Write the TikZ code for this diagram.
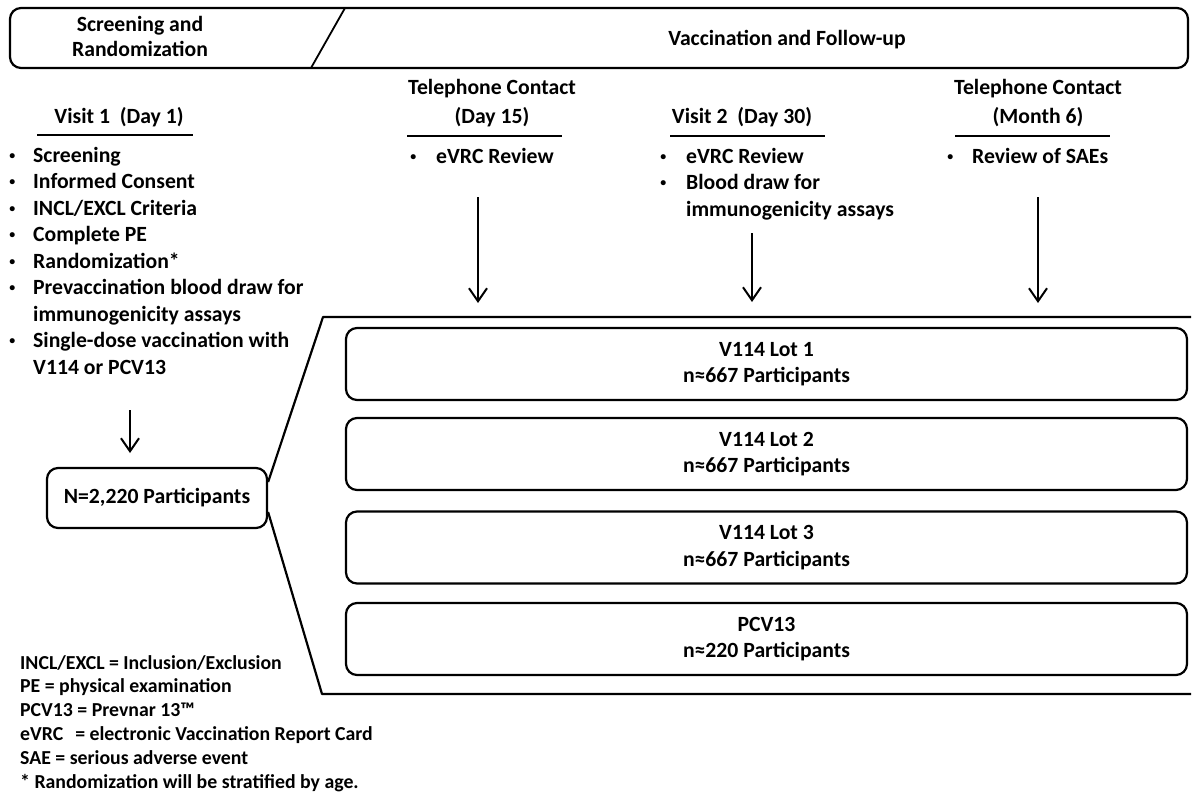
\documentclass[tikz,border=0pt]{standalone}
\usepackage{fontspec}
\setmainfont{Carlito}
\usetikzlibrary{arrows.meta,calc}
\tikzset{
  txt/.style={inner sep=0pt, font=\bfseries\fontsize{21.7}{26.5}\selectfont, anchor=base west},
  ctxt/.style={txt, anchor=base},
  leg/.style={inner sep=0pt, font=\bfseries\fontsize{19.8}{23.8}\selectfont, anchor=base west},
  frame/.style={draw, line width=2.2pt, rounded corners=11pt},
  grp/.style={frame, minimum width=841pt, minimum height=72pt, align=center, inner sep=0pt,
              font=\bfseries\fontsize{21.7}{26.5}\selectfont},
  uline/.style={line width=2.4pt},
  arr/.style={line width=2pt, -{Straight Barb[length=13pt,width=18pt]}},
  bracket/.style={line width=2.2pt},
}
\newcommand{\mybul}[2]{\makebox[#1][l]{\hspace{2.5pt}\raisebox{2.6pt}{\scalebox{0.55}{\textbullet}}}#2}
\begin{document}
\begin{tikzpicture}[x=1pt,y=-1pt]
\useasboundingbox (0,0) rectangle (1192,792);

% banner
\node[frame, minimum width=1178pt, minimum height=60pt, inner sep=0pt] (banner) at (599,38) {};
\coordinate (s1) at (345,8);
\coordinate (s2) at (311,68);
\draw[line width=1.8pt] (s1) -- (s2);
\node[ctxt] (bt1) at (140,32) {Screening and};
\node[ctxt] (bt2) at (140,57) {Randomization};
\node[ctxt] (bt3) at (787,46) {Vaccination and Follow-up};

% column 1
\node[ctxt] (h1) at (119,123) {Visit 1\ \ (Day 1)};
\coordinate (u1a) at (37,135); \coordinate (u1b) at (193,135);
\draw[uline] (u1a) -- (u1b);
\node[txt] (c1a) at (6.6,162) {\mybul{26.4pt}{Screening}};
\node[txt] (c1b) at (6.6,188.5) {\mybul{26.4pt}{Informed Consent}};
\node[txt] (c1c) at (6.6,215) {\mybul{26.4pt}{INCL/EXCL Criteria}};
\node[txt] (c1d) at (6.6,241.5) {\mybul{26.4pt}{Complete PE}};
\node[txt] (c1e) at (6.6,268) {\mybul{26.4pt}{Randomization*}};
\node[txt] (c1f) at (6.6,294.5) {\mybul{26.4pt}{Prevaccination blood draw for}};
\node[txt] (c1g) at (33,321) {immunogenicity assays};
\node[txt] (c1h) at (6.6,347.5) {\mybul{26.4pt}{Single-dose vaccination with}};
\node[txt] (c1i) at (33,374) {V114 or PCV13};

% column 2
\node[ctxt] (h2a) at (492,95) {Telephone Contact};
\node[ctxt] (h2b) at (492,123) {(Day 15)};
\coordinate (u2a) at (407,136); \coordinate (u2b) at (562,136);
\draw[uline] (u2a) -- (u2b);
\node[txt] (c2a) at (407.6,163) {\mybul{28.4pt}{eVRC Review}};

% column 3
\node[ctxt] (h3) at (742,123) {Visit 2\ \ (Day 30)};
\coordinate (u3a) at (670,136); \coordinate (u3b) at (825,136);
\draw[uline] (u3a) -- (u3b);
\node[txt] (c3a) at (657.6,163) {\mybul{28.4pt}{eVRC Review}};
\node[txt] (c3b) at (657.6,189.5) {\mybul{28.4pt}{Blood draw for}};
\node[txt] (c3c) at (686,216) {immunogenicity assays};

% column 4
\node[ctxt] (h4a) at (1038,95) {Telephone Contact};
\node[ctxt] (h4b) at (1038,123) {(Month 6)};
\coordinate (u4a) at (955,136); \coordinate (u4b) at (1110,136);
\draw[uline] (u4a) -- (u4b);
\node[txt] (c4a) at (944.6,163) {\mybul{27.4pt}{Review of SAEs}};

% N box
\node[frame, minimum width=220pt, minimum height=60pt, inner sep=0pt,
      font=\bfseries\fontsize{21.7}{26.5}\selectfont] (nbox) at (157,498) {N=2,220 Participants};

% arrows
\coordinate (a1s) at (130,410); \coordinate (a1e) at (130,453);
\coordinate (a2s) at (478,197); \coordinate (a2e) at (478,303);
\coordinate (a3s) at (752,233); \coordinate (a3e) at (752,302);
\coordinate (a4s) at (1038,197); \coordinate (a4e) at (1038,303);
\draw[arr] (a1s) -- (a1e);
\draw[arr] (a2s) -- (a2e);
\draw[arr] (a3s) -- (a3e);
\draw[arr] (a4s) -- (a4e);

% bracket
\coordinate (bru) at ($(nbox.east)+(0,-16)$);
\coordinate (brl) at ($(nbox.east)+(0,14)$);
\coordinate (btl) at (323,317); \coordinate (btr) at (1191,317);
\coordinate (bbl) at (322,694); \coordinate (bbr) at (1191,694);
\draw[bracket, line join=round] (bru) -- (btl) -- (btr);
\draw[bracket, line join=round] (brl) -- (bbl) -- (bbr);

% group boxes
\node[grp] (g1) at (766.5,364) {V114 Lot 1\\n≈667 Participants};
\node[grp] (g2) at (766.5,454) {V114 Lot 2\\n≈667 Participants};
\node[grp] (g3) at (766.5,547.5) {V114 Lot 3\\n≈667 Participants};
\node[grp] (g4) at (766.5,639) {PCV13\\n≈220 Participants};

% legend
\node[leg] (l1) at (20,669) {INCL/EXCL = Inclusion/Exclusion};
\node[leg] (l2) at (20,692.8) {PE = physical examination};
\node[leg] (l3) at (20,716.6) {PCV13 = Prevnar 13™};
\node[leg] (l4) at (20,740.4) {eVRC\hspace{12pt}= electronic Vaccination Report Card};
\node[leg] (l5) at (20,764.2) {SAE = serious adverse event};
\node[leg] (l6) at (20,788) {* Randomization will be stratified by age.};
\end{tikzpicture}
\end{document}
